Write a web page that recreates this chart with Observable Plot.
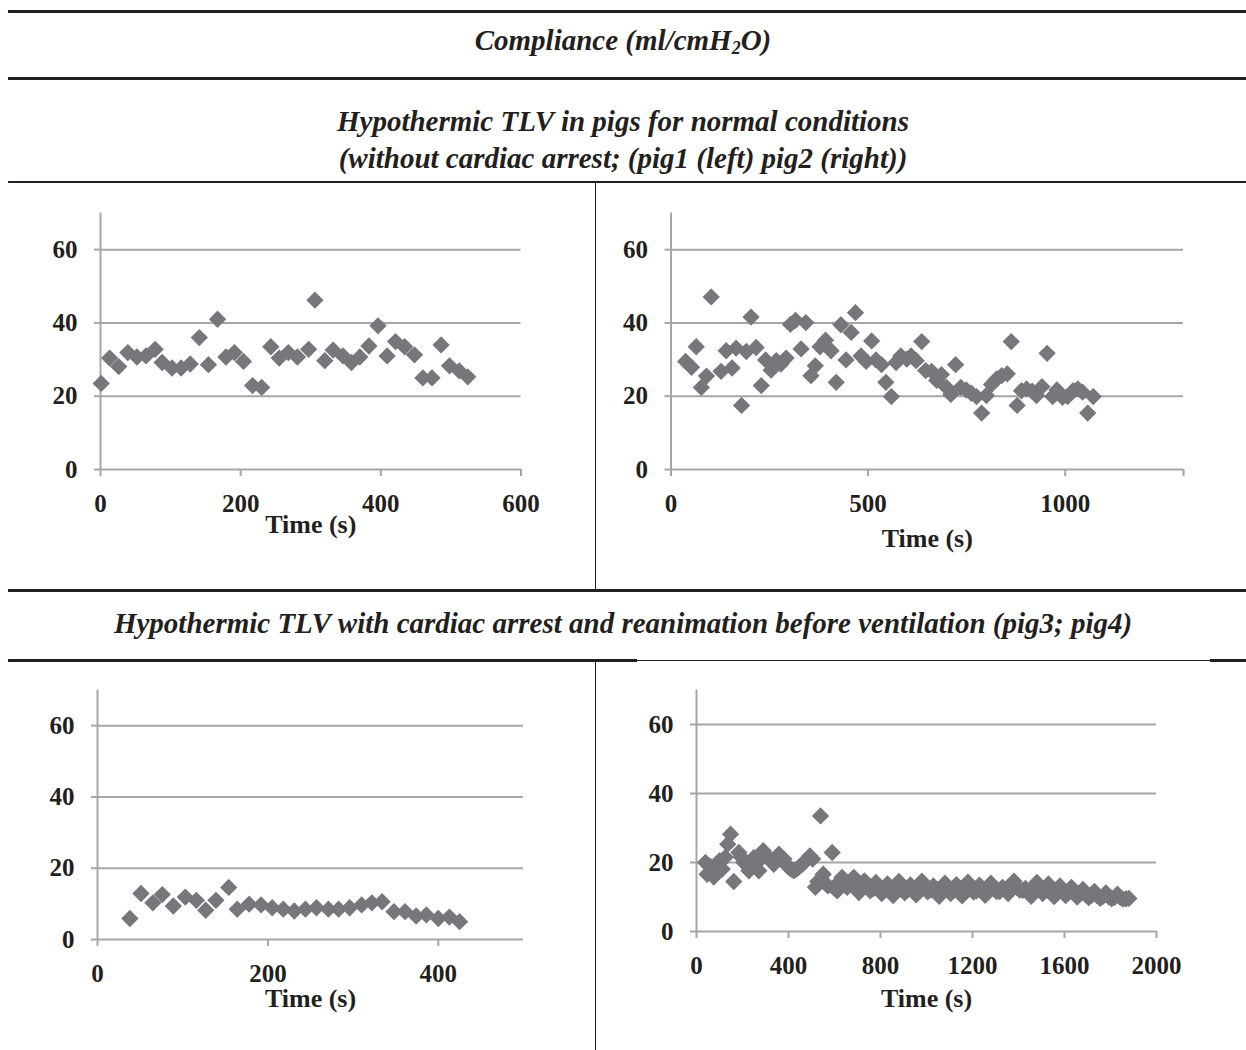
<!DOCTYPE html>
<html>
<head>
<meta charset="utf-8">
<script src="https://cdn.jsdelivr.net/npm/d3@7"></script>
<script src="https://cdn.jsdelivr.net/npm/@observablehq/plot@0.6"></script>
<style>
  body { margin: 0; background: #fff; }
  #page { position: relative; width: 1246px; height: 1050px; overflow: hidden;
          font-family: "Liberation Serif", "Times New Roman", serif; color: #231f20; background: #fff; }
  .hl { position: absolute; background: #231f20; }
  .title { position: absolute; left: 0; width: 1246px; text-align: center; font-weight: bold;
           font-style: italic; font-size: 29px; line-height: 29px; white-space: nowrap; }
  .title sub { font-size: 18px; vertical-align: -4px; line-height: 0; }
  .pw { position: absolute; }
</style>
</head>
<body>
<div id="page">
  <div class="hl" style="left:8px; top:10px; width:1238px; height:2.5px"></div>
  <div class="title" style="top:26px">Compliance (ml/cmH<sub>2</sub>O)</div>
  <div class="hl" style="left:8px; top:77px; width:1238px; height:2.5px"></div>
  <div class="title" style="top:107px">Hypothermic TLV in pigs for normal conditions</div>
  <div class="title" style="top:144px">(without cardiac arrest; (pig1 (left) pig2 (right))</div>

  <div class="hl" style="left:8px; top:181px; width:1238px; height:1.5px"></div>
  <div class="hl" style="left:8px; top:180.5px; width:36px; height:2.5px"></div>
  <div class="hl" style="left:568px; top:180.5px; width:46px; height:2.5px"></div>
  <div class="hl" style="left:1232px; top:180.5px; width:14px; height:2.5px"></div>
  <div class="hl" style="left:594.5px; top:182px; width:1.3px; height:408px"></div>

  <div class="hl" style="left:8px; top:589px; width:1238px; height:2.5px"></div>
  <div class="title" style="top:609px">Hypothermic TLV with cardiac arrest and reanimation before ventilation (pig3; pig4)</div>

  <div class="hl" style="left:8px; top:659px; width:629px; height:2.5px"></div>
  <div class="hl" style="left:637px; top:659.5px; width:573px; height:1.5px"></div>
  <div class="hl" style="left:1210px; top:659px; width:36px; height:2.5px"></div>
  <div class="hl" style="left:594.5px; top:661px; width:1.3px; height:389px"></div>
</div>
<script>
// ---- Data ----
const yTicks = [0, 20, 40, 60];

// pig1 (top-left)
const pig1Time = [1,13,26,39,52,65,78,88,102,115,128,141,154,167,179,191,204,217,230,243,255,268,281,297,306,320,332,346,358,370,383,396,409,421,434,448,460,473,486,498,512,524];
const pig1Comp = [23.5,30.4,28.1,31.9,30.7,31.0,32.8,29.2,27.7,27.7,28.8,36.0,28.6,41.0,30.7,31.9,29.5,22.9,22.4,33.5,30.4,31.9,30.7,32.8,46.2,29.7,32.6,31.0,29.2,30.7,33.7,39.2,31.0,34.9,33.5,31.3,25.0,25.0,34.0,28.3,26.9,25.3];
const pig1XTicks = [0, 200, 400, 600];

// pig2 (top-right)
const pig2Time = [37,52,64,77,90,102,127,140,155,165,179,191,203,216,229,240,254,267,279,292,303,316,330,342,355,366,378,392,406,419,431,444,457,468,482,495,509,520,534,545,559,571,583,598,609,622,636,646,661,674,686,699,710,722,735,749,762,775,788,800,813,826,839,853,863,878,889,902,916,927,941,954,968,979,993,1006,1020,1032,1044,1057,1071];
const pig2Comp = [29.5,27.9,33.5,22.4,25.5,47.1,26.8,32.4,27.7,33.1,17.5,32.2,41.6,33.3,22.9,29.9,27.1,29.7,28.8,30.4,39.6,40.7,32.9,40.1,25.6,28.3,33.5,35.3,32.4,23.8,39.5,29.9,37.4,42.8,31.0,29.5,35.1,29.9,28.6,23.8,19.9,29.2,31.0,30.1,31.0,29.7,34.9,27.0,26.8,24.3,25.9,22.4,20.5,28.6,22.4,21.7,20.8,19.9,15.4,20.2,23.2,24.7,25.6,26.1,34.9,17.5,21.5,22.0,21.4,20.2,22.6,31.7,19.9,21.7,19.7,19.9,21.5,22.0,21.1,15.4,19.9];
const pig2XTicks = [0, 500, 1000, 1300];
const pig2XLabels = ["0", "500", "1000", ""];

// pig3 (bottom-left)
const pig3Time = [38,51,65,76,89,103,116,127,139,154,164,178,192,205,218,231,244,257,271,283,296,310,322,334,348,361,374,386,400,413,425];
const pig3Comp = [5.9,12.9,10.3,12.6,9.4,11.9,11.0,8.2,11.0,14.6,8.5,9.9,9.7,8.9,8.5,8.0,8.5,8.9,8.5,8.5,8.9,9.7,10.3,10.6,7.8,7.8,6.6,6.9,5.9,6.3,5.0];
const pig3XTicks = [0, 200, 400];

// pig4 (bottom-right)
const pig4Time = [
  39,46,55,64,75,90,100,112,125,136,148,162,184,195,206,217,228,238,249,260,271,280,290,302,314,325,336,347,358,369,380,390,401,412,423,434,445,460,474,493,505,517,527,539,551,560,571,590,600,612,622,633,645,655,668,684,695,
  706,718,730,743,755,768,780,793,805,818,830,843,855,868,880,893,905,918,930,943,955,968,980,993,
  1005,1018,1030,1043,1055,1068,1080,1093,1105,1118,1130,1143,1155,1168,1180,1193,1205,1218,1230,1243,
  1255,1268,1280,1293,1305,1318,1330,1343,1355,1368,1380,1393,1405,1418,1430,1443,1455,1468,1480,1493,
  1505,1518,1530,1543,1555,1568,1580,1593,1605,1618,1630,1643,1655,1668,1680,1693,1705,1718,1730,1743,
  1755,1768,1780,1793,1805,1818,1830,1843,1855,1868,1880];
const pig4Comp = [
  20.0,16.6,19.0,18.7,15.8,17.6,20.5,18.1,21.5,25.3,28.2,14.5,22.9,21.5,20.0,19.5,17.6,20.0,21.4,19.8,17.6,21.0,23.4,22.0,21.4,20.5,19.5,21.0,22.4,21.5,21.0,19.5,18.6,18.0,17.6,18.0,18.6,19.5,20.5,21.9,21.0,12.8,14.5,33.5,16.6,14.0,13.2,22.9,12.5,11.8,14.5,15.7,13.5,12.8,14.0,15.7,13.5,
  11.3,12.6,14.7,12.9,11.8,12.4,14.2,12.0,11.0,12.2,13.8,11.9,10.4,12.8,14.5,12.3,11.2,12.0,13.5,12.4,10.6,12.1,14.6,12.7,
  11.5,12.0,13.2,11.8,10.2,12.5,14.0,12.2,11.0,11.9,13.6,12.3,10.3,12.6,14.3,12.4,11.4,11.8,13.4,12.1,
  10.5,12.5,14.0,12.3,11.6,11.6,12.8,12.2,11.0,12.4,14.6,12.8,12.0,11.9,12.5,11.6,10.2,12.0,14.2,12.3,
  11.0,12.0,13.8,11.8,10.1,11.5,13.2,11.4,10.4,11.3,12.8,11.0,10.0,10.9,12.2,10.6,9.8,10.5,11.6,10.3,
  9.6,10.2,11.2,10.0,9.5,9.9,10.8,9.8,9.4,9.5,9.6];
const pig4XTicks = [0, 400, 800, 1200, 1600, 2000];

// ---- Drawing ----
const GRID = "#a6a6a8", MARK = "#76777b", INK = "#231f20";
const FONT = "'Liberation Serif', 'Times New Roman', serif";

function panel({time, comp, xDomain, xTicks, xLabels, box, frame, titleDy}) {
  const data = time.map((t, i) => ({t, v: comp[i]}));
  const labels = xLabels || xTicks.map(String);
  const fmt = d => labels[xTicks.indexOf(d)];
  const svg = Plot.plot({
    width: box.width,
    height: box.height,
    marginLeft: frame.x0 - box.left,
    marginRight: box.left + box.width - frame.x1,
    marginTop: frame.y0 - box.top,
    marginBottom: box.top + box.height - frame.y1,
    x: {domain: xDomain},
    y: {domain: [0, 70]},
    style: {fontFamily: FONT, fontWeight: "bold", fontSize: "25px", color: INK, background: "transparent", overflow: "visible"},
    marks: [
      Plot.gridY(yTicks.filter(d => d > 0), {stroke: GRID, strokeOpacity: 1, strokeWidth: 2}),
      Plot.ruleY([0], {stroke: GRID, strokeWidth: 2}),
      Plot.ruleX([xDomain[0]], {stroke: GRID, strokeWidth: 2}),
      Plot.axisY(yTicks, {tickSize: 6, tickPadding: 17, stroke: GRID, strokeWidth: 2, fill: INK,
        fontSize: 25, fontWeight: "bold", fontFamily: FONT, tickFormat: d => String(d), label: null}),
      Plot.axisX(xTicks, {tickSize: 7, tickPadding: 18, stroke: GRID, strokeWidth: 2, fill: INK,
        fontSize: 25, fontWeight: "bold", fontFamily: FONT, tickFormat: fmt, label: null}),
      Plot.dot(data, {x: "t", y: "v", symbol: "diamond2", r: 7.8, fill: MARK, stroke: "none"}),
      Plot.text(["Time (s)"], {frameAnchor: "bottom", dy: titleDy, fontSize: 26, fontWeight: "bold",
        fontFamily: FONT, fill: INK, lineAnchor: "middle"})
    ]
  });
  const wrap = document.createElement("div");
  wrap.className = "pw";
  wrap.style.left = box.left + "px";
  wrap.style.top = box.top + "px";
  wrap.appendChild(svg);
  document.getElementById("page").appendChild(wrap);
}

panel({time: pig1Time, comp: pig1Comp, xDomain: [0, 600], xTicks: pig1XTicks,
  box: {left: 0, top: 186, width: 594, height: 400},
  frame: {x0: 100, x1: 520.5, y0: 212.5, y1: 469}, titleDy: 55});
panel({time: pig2Time, comp: pig2Comp, xDomain: [0, 1300], xTicks: pig2XTicks, xLabels: pig2XLabels,
  box: {left: 597, top: 186, width: 649, height: 400},
  frame: {x0: 670.5, x1: 1183, y0: 212.5, y1: 469}, titleDy: 69});
panel({time: pig3Time, comp: pig3Comp, xDomain: [0, 500], xTicks: pig3XTicks,
  box: {left: 0, top: 663, width: 594, height: 387},
  frame: {x0: 97, x1: 523, y0: 689.5, y1: 939}, titleDy: 59});
panel({time: pig4Time, comp: pig4Comp, xDomain: [0, 2000], xTicks: pig4XTicks,
  box: {left: 597, top: 663, width: 649, height: 387},
  frame: {x0: 696, x1: 1156, y0: 689.5, y1: 931}, titleDy: 67});
</script>
</body>
</html>
